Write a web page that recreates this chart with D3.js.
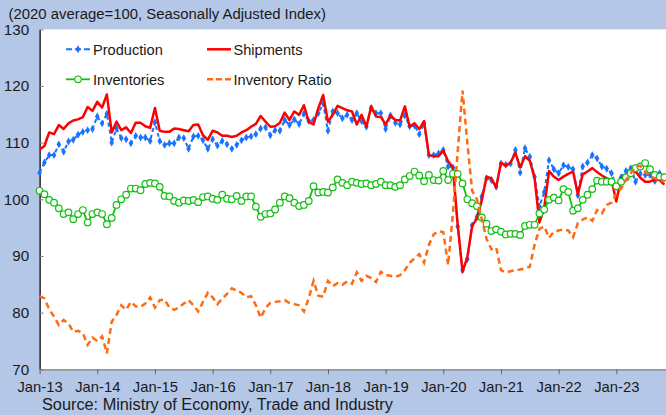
<!DOCTYPE html>
<html>
<head>
<meta charset="utf-8">
<script src="https://cdn.jsdelivr.net/npm/d3@7"></script>
<style>
  body { margin: 0; background: #b4c7e7; }
  svg { display: block; font-family: "Liberation Sans", Arial, sans-serif; }
</style>
</head>
<body>
<div id="chart"></div>
<script>

/* CONSTANTS AND GLOBALS */

const width = 666;
const height = 415;
const plot = {
  left: 39.6,
  top: 29.3,
  right: 666,
  bottom: 369.3
};
const monthStep = 4.806; // px per month

// monthly index, Jan-13 .. Nov-23
const production = [
  104.7, 106.5, 107.8, 107.8, 109.7, 108.4, 110.2, 110.5, 111.4, 111.9, 112.2, 112.4,
  114.6, 113.4, 115.1, 110.0, 112.5, 110.8, 110.6, 109.9, 111.2, 110.9, 110.9, 110.3,
  113.6, 110.3, 109.6, 109.9, 109.9, 110.9, 110.8, 108.9, 111.1, 111.2, 110.4, 108.9,
  110.6, 109.5, 110.3, 109.7, 108.9, 109.6, 110.4, 110.9, 111.1, 111.5, 112.5, 112.7,
  111.3, 112.2, 112.1, 114.0, 113.1, 114.1, 113.3, 115.1, 113.8, 114.0, 115.2, 116.9,
  112.1, 115.5, 115.2, 114.3, 114.9, 114.0, 115.2, 113.8, 112.8, 116.1, 115.2, 115.2,
  112.4, 114.8, 113.5, 113.2, 114.8, 112.9, 113.0, 111.5, 113.4, 107.8, 107.8, 108.1,
  108.7, 105.8, 105.6, 95.2, 87.5, 89.4, 95.4, 96.9, 100.5, 103.7, 103.4, 102.2,
  106.3, 106.1, 106.3, 108.7, 104.7, 109.0, 107.5, 104.0, 98.7, 101.3, 106.9, 105.3,
  104.6, 106.0, 105.7, 105.3, 100.7, 105.8, 106.5, 107.8, 107.2, 105.8, 105.4, 104.6,
  102.2, 103.9, 105.0, 105.5, 103.1, 104.5, 104.3, 104.3, 103.2, 104.6, 103.7
];

const shipments = [
  108.8, 109.4, 111.8, 111.5, 113.1, 112.4, 113.4, 113.9, 114.1, 114.5, 116.3, 115.6,
  117.2, 116.2, 118.5, 111.8, 113.7, 112.2, 112.7, 111.7, 113.5, 113.5, 112.9, 112.6,
  116.1, 112.1, 111.9, 111.9, 112.5, 112.4, 112.2, 112.0, 113.1, 113.2, 111.3, 110.5,
  112.1, 111.8, 111.2, 111.2, 111.0, 111.2, 111.8, 112.2, 112.8, 113.3, 114.7, 113.7,
  112.8, 112.9, 113.5, 115.3, 114.0, 115.5, 114.9, 116.6, 113.7, 113.2, 116.1, 118.4,
  113.7, 114.9, 116.5, 116.1, 115.7, 115.5, 113.2, 114.9, 112.8, 116.4, 114.6, 114.5,
  113.2, 114.8, 114.0, 113.9, 116.4, 112.8, 113.4, 112.4, 113.8, 107.8, 107.6, 107.6,
  108.6, 106.7, 105.6, 95.5, 87.2, 89.8, 95.3, 96.6, 99.8, 104.0, 103.7, 102.1,
  106.5, 105.9, 106.5, 108.2, 105.6, 107.6, 106.8, 103.7, 95.9, 98.5, 105.0, 104.0,
  103.4, 104.0, 104.5, 104.9, 100.9, 104.4, 104.9, 105.5, 104.8, 104.2, 103.7, 103.4,
  99.6, 103.7, 104.4, 104.5, 104.9, 103.8, 103.1, 103.1, 103.5, 103.4, 102.6
];

const inventories = [
  101.5, 100.9, 99.9, 99.4, 98.4, 97.4, 97.7, 96.5, 97.4, 98.1, 95.9, 97.4,
  97.7, 97.4, 95.6, 96.7, 99.0, 100.0, 100.8, 101.9, 101.9, 101.6, 102.7, 102.9,
  102.8, 102.2, 100.6, 100.5, 99.7, 99.4, 99.8, 99.7, 99.9, 99.5, 100.4, 100.5,
  100.1, 99.9, 100.8, 100.1, 100.0, 100.6, 99.7, 100.5, 100.5, 98.7, 96.9, 97.4,
  97.5, 98.2, 99.4, 100.5, 100.2, 99.4, 98.8, 99.0, 99.7, 102.3, 101.2, 101.3,
  101.2, 102.1, 103.5, 102.9, 102.5, 103.1, 102.9, 102.7, 102.8, 102.5, 102.7, 103.1,
  102.5, 102.5, 102.2, 102.5, 103.5, 104.1, 104.9, 104.2, 103.2, 104.3, 103.4, 103.3,
  105.0, 103.4, 104.5, 104.5, 102.8, 100.0, 99.3, 98.8, 96.8, 95.7, 94.4, 94.7,
  94.3, 93.8, 93.9, 93.9, 93.7, 95.3, 95.5, 95.5, 97.5, 98.2, 99.9, 100.3,
  99.8, 101.8, 101.3, 98.0, 98.4, 99.9, 100.8, 101.8, 103.3, 103.1, 103.1, 103.1,
  102.3, 103.1, 103.9, 104.6, 105.5, 105.8, 106.4, 105.3, 104.3, 104.0, 103.9
];

const inventoryRatio = [
  82.9, 82.5, 80.6, 79.3, 77.8, 78.7, 78.1, 76.6, 76.8, 76.4, 74.3, 75.6,
  75.0, 75.8, 72.8, 78.4, 79.6, 81.3, 80.5, 81.9, 81.1, 81.0, 81.6, 82.7,
  80.9, 82.2, 82.3, 80.9, 80.5, 80.9, 81.6, 82.2, 81.3, 80.2, 81.9, 83.5,
  82.7, 81.5, 82.5, 83.3, 84.3, 83.9, 83.5, 82.7, 82.9, 81.3, 79.1, 80.8,
  81.7, 81.9, 82.0, 82.2, 81.7, 81.5, 81.3, 80.2, 82.5, 85.6, 83.0, 82.8,
  85.6, 84.7, 85.2, 84.9, 85.5, 85.1, 87.1, 85.6, 86.5, 86.1, 85.4, 87.2,
  86.6, 86.5, 86.3, 86.6, 87.5, 88.8, 89.6, 90.3, 88.8, 92.0, 93.8, 94.4,
  94.2, 88.4, 97.5, 108.5, 119.2, 110.0, 101.5, 100.0, 96.5, 93.0, 91.2, 91.5,
  87.5, 87.1, 87.3, 87.5, 87.6, 87.8, 88.1, 92.0, 94.8, 95.2, 93.2, 94.3,
  94.5, 94.7, 94.5, 93.3, 95.8, 96.4, 96.8, 96.2, 98.1, 97.5, 99.0, 99.4,
  101.0, 101.9, 103.4, 104.6, 105.8, 105.9, 104.9, 104.1, 103.7, 103.5, 103.1
];

const tickLabels = ["Jan-13", "Jan-14", "Jan-15", "Jan-16", "Jan-17", "Jan-18",
                    "Jan-19", "Jan-20", "Jan-21", "Jan-22", "Jan-23"];
const yTicks = [70, 80, 90, 100, 110, 120, 130];

const colors = {
  production: "#1a73ff",
  shipments: "#ff0000",
  inventories: "#12c012",
  ratio: "#ff6a13"
};


// SCALES =================================================

const xScale = d3.scaleLinear()
  .domain([0, (plot.right - plot.left) / monthStep])
  .range([plot.left, plot.right]);

const yScale = d3.scaleLinear()
  .domain([70, 130])
  .range([plot.bottom, plot.top]);


// CREATE MAIN SVG ELEMENT ==================================
const svg = d3.select("#chart")
  .append("svg")
  .attr("width", width)
  .attr("height", height);

svg.append("rect")
  .attr("width", width)
  .attr("height", height)
  .attr("fill", "#b4c7e7");

// white plot area
svg.append("rect")
  .attr("x", plot.left)
  .attr("y", plot.top)
  .attr("width", plot.right - plot.left)
  .attr("height", plot.bottom - plot.top)
  .attr("fill", "#fff");


// AXES ----------------------------------------------------

const yAxis = d3.axisLeft(yScale)
  .tickValues(yTicks)
  .tickSize(-4)
  .tickSizeOuter(0)
  .tickPadding(10.5);

svg.append("g")
  .attr("transform", `translate(${plot.left}, 0)`)
  .call(yAxis)
  .call(g => g.select(".domain").attr("stroke", "#000").attr("stroke-width", 1.3))
  .call(g => g.selectAll(".tick line").attr("stroke", "#808080"))
  .call(g => g.selectAll(".tick text")
    .attr("fill", "#1a1a1a")
    .style("font-size", "15.2px")
    .style("font-family", "'Liberation Sans', Arial, sans-serif"));

const xAxis = d3.axisBottom(xScale)
  .tickValues(d3.range(tickLabels.length).map(i => i * 12))
  .tickFormat((d, i) => tickLabels[i])
  .tickSize(5)
  .tickSizeOuter(0)
  .tickPadding(7.3);

svg.append("g")
  .attr("transform", `translate(0, ${plot.bottom})`)
  .call(xAxis)
  .call(g => g.select(".domain").attr("stroke", "#808080").attr("stroke-width", 1.3))
  .call(g => g.selectAll(".tick line").attr("stroke", "#666"))
  .call(g => g.selectAll(".tick text")
    .attr("fill", "#1a1a1a")
    .style("font-size", "14.8px")
    .style("font-family", "'Liberation Sans', Arial, sans-serif"));


// LINES =====================================================

const line = d3.line()
  .x((d, i) => xScale(i))
  .y(d => yScale(d));

// Production
svg.append("path")
  .datum(production)
  .attr("fill", "none")
  .attr("stroke", colors.production)
  .attr("stroke-width", 2)
  .attr("stroke-dasharray", "4,3")
  .attr("d", line);

svg.selectAll("path.prod-marker")
  .data(production)
  .join("path")
  .attr("class", "prod-marker")
  .attr("d", d3.symbol(d3.symbolDiamond, 18))
  .attr("transform", (d, i) => `translate(${xScale(i)}, ${yScale(d)})`)
  .attr("fill", colors.production);

// Shipments
svg.append("path")
  .datum(shipments)
  .attr("fill", "none")
  .attr("stroke", colors.shipments)
  .attr("stroke-width", 2.5)
  .attr("stroke-linejoin", "round")
  .attr("d", line);

// Inventories
svg.append("path")
  .datum(inventories)
  .attr("fill", "none")
  .attr("stroke", colors.inventories)
  .attr("stroke-width", 1.8)
  .attr("d", line);

svg.selectAll("circle.inv-marker")
  .data(inventories)
  .join("circle")
  .attr("class", "inv-marker")
  .attr("cx", (d, i) => xScale(i))
  .attr("cy", d => yScale(d))
  .attr("r", 3.3)
  .attr("fill", "#fff")
  .attr("stroke", colors.inventories)
  .attr("stroke-width", 1.2);

// Inventory Ratio
svg.append("path")
  .datum(inventoryRatio)
  .attr("fill", "none")
  .attr("stroke", colors.ratio)
  .attr("stroke-width", 2.5)
  .attr("stroke-dasharray", "6,4")
  .attr("d", line);


// LEGEND ====================================================

const legend = svg.append("g")
  .style("font-size", "14.6px")
  .attr("fill", "#1a1a1a");

// Production
legend.append("line")
  .attr("x1", 66).attr("x2", 90).attr("y1", 49.3).attr("y2", 49.3)
  .attr("stroke", colors.production)
  .attr("stroke-width", 2)
  .attr("stroke-dasharray", "6,3");
legend.append("path")
  .attr("d", d3.symbol(d3.symbolDiamond, 18))
  .attr("transform", "translate(78, 49.3)")
  .attr("fill", colors.production);
legend.append("text").attr("x", 93).attr("y", 54.5).text("Production");

// Shipments
legend.append("line")
  .attr("x1", 207).attr("x2", 231).attr("y1", 49.3).attr("y2", 49.3)
  .attr("stroke", colors.shipments)
  .attr("stroke-width", 2.5);
legend.append("text").attr("x", 233.5).attr("y", 54.5).text("Shipments");

// Inventories
legend.append("line")
  .attr("x1", 66).attr("x2", 90).attr("y1", 79.3).attr("y2", 79.3)
  .attr("stroke", colors.inventories)
  .attr("stroke-width", 1.8);
legend.append("circle")
  .attr("cx", 78).attr("cy", 79.3).attr("r", 3.3)
  .attr("fill", "#fff")
  .attr("stroke", colors.inventories)
  .attr("stroke-width", 1.2);
legend.append("text").attr("x", 93).attr("y", 84.5).text("Inventories");

// Inventory Ratio
legend.append("line")
  .attr("x1", 207).attr("x2", 231).attr("y1", 79.3).attr("y2", 79.3)
  .attr("stroke", colors.ratio)
  .attr("stroke-width", 2.5)
  .attr("stroke-dasharray", "6,3");
legend.append("text").attr("x", 233.5).attr("y", 84.5).text("Inventory Ratio");


// TITLES ====================================================

svg.append("text")
  .attr("x", 8.5)
  .attr("y", 18.5)
  .style("font-size", "14.9px")
  .attr("fill", "#1a1a1a")
  .text("(2020 average=100, Seasonally Adjusted Index)");

svg.append("text")
  .attr("x", 42)
  .attr("y", 409.5)
  .style("font-size", "16.3px")
  .attr("fill", "#1a1a1a")
  .text("Source:  Ministry of Economy, Trade and Industry");

</script>
</body>
</html>
